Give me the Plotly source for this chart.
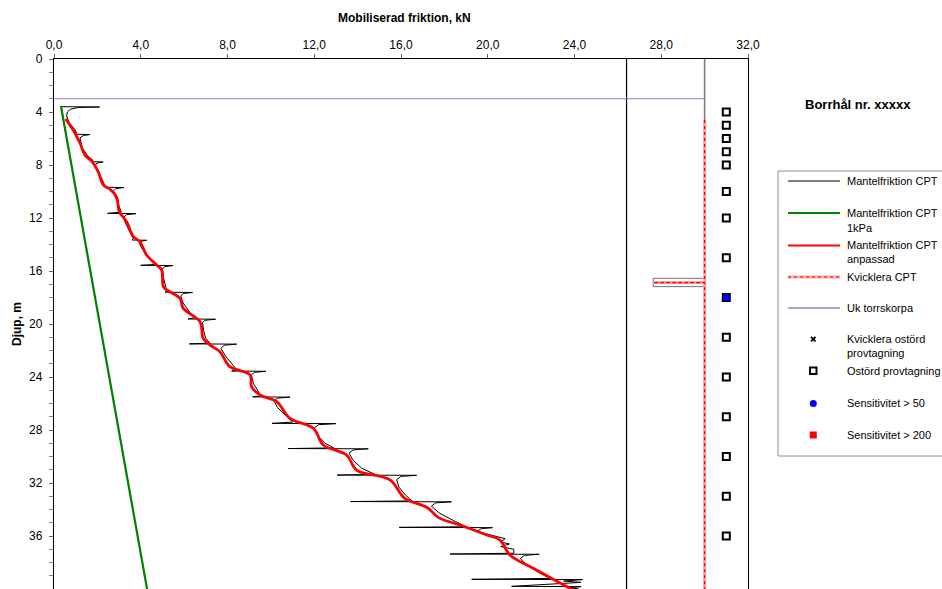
import plotly.graph_objects as go

# ---------------- data ----------------
x_tick_vals = [0, 4, 8, 12, 16, 20, 24, 28, 32]
x_tick_text = ["0,0", "4,0", "8,0", "12,0", "16,0", "20,0", "24,0", "28,0", "32,0"]
y_tick_vals = [0, 4, 8, 12, 16, 20, 24, 28, 32, 36, 40]
y_tick_text = ["0", "4", "8", "12", "16", "20", "24", "28", "32", "36", "40"]

# Mantelfriktion CPT (black, with rod-change spikes)
cpt_friction = [
    0.35, 2.10, 1.10, 0.75, 0.62, 0.58, 0.70, 0.95, 1.05,
    1.00, 1.66, 1.35, 1.20, 1.25, 1.30, 1.55, 1.80,
    1.75, 2.27, 1.98, 1.90, 2.00, 2.20, 2.35,
    2.35, 3.23, 2.85, 2.75, 2.80, 2.95, 3.10,
    2.47, 3.78, 3.35, 3.20, 3.30, 3.50, 3.65,
    3.60, 4.27, 4.00, 3.95, 4.05, 4.40, 4.75,
    4.00, 5.49, 5.10, 5.00, 5.05, 5.15, 5.20,
    5.12, 6.39, 5.95, 5.85, 5.95, 6.20, 6.45,
    6.18, 7.45, 6.95, 6.85, 6.90, 7.00, 7.20,
    6.24, 8.42, 7.85, 7.70, 7.90, 8.20, 8.45,
    8.19, 9.77, 9.25, 9.10, 9.20, 9.40, 9.55,
    9.16, 10.88, 10.30, 10.15, 10.30, 10.60, 11.00,
    10.05, 13.00, 12.20, 12.00, 12.20, 12.50, 12.90,
    10.80, 14.49, 13.80, 13.60, 13.80, 14.20, 14.80,
    13.06, 16.72, 16.00, 15.80, 15.90, 16.20, 16.50,
    13.68, 18.33, 17.60, 17.40, 17.80, 18.50, 19.00,
    15.92, 20.22, 19.70, 19.50, 20.20, 20.80, 20.60, 21.00, 20.60, 21.20, 21.20,
    18.26, 22.37, 21.70, 21.50, 21.80, 22.40, 22.90,
    19.26, 24.37, 23.50, 24.30, 21.10, 24.30, 23.80, 24.20,
]
cpt_depth = [
    3.60, 3.62, 3.66, 3.80, 4.00, 4.30, 4.80, 5.30, 5.60,
    5.68, 5.70, 5.78, 5.95, 6.30, 6.70, 7.30, 7.65,
    7.75, 7.77, 7.85, 8.05, 8.50, 9.00, 9.60,
    9.68, 9.70, 9.78, 9.95, 10.30, 10.90, 11.55,
    11.65, 11.67, 11.75, 11.95, 12.40, 13.00, 13.55,
    13.66, 13.68, 13.76, 13.95, 14.30, 15.00, 15.50,
    15.57, 15.59, 15.67, 15.85, 16.50, 17.20, 17.55,
    17.60, 17.62, 17.70, 17.90, 18.40, 19.00, 19.55,
    19.62, 19.64, 19.72, 19.90, 20.50, 21.10, 21.45,
    21.50, 21.52, 21.60, 21.85, 22.40, 23.00, 23.50,
    23.55, 23.57, 23.65, 23.85, 24.50, 25.10, 25.45,
    25.50, 25.52, 25.60, 25.80, 26.30, 26.80, 27.40,
    27.50, 27.52, 27.60, 27.85, 28.50, 29.00, 29.35,
    29.40, 29.42, 29.50, 29.75, 30.30, 30.90, 31.35,
    31.40, 31.42, 31.50, 31.75, 32.30, 32.90, 33.35,
    33.40, 33.42, 33.50, 33.75, 34.30, 34.90, 35.30,
    35.35, 35.37, 35.45, 35.65, 35.95, 36.20, 36.45, 36.60, 36.80, 37.00, 37.30,
    37.36, 37.38, 37.46, 37.70, 38.20, 38.80, 39.20,
    39.27, 39.29, 39.40, 39.50, 39.80, 39.82, 39.90, 40.00,
]

# Mantelfriktion CPT 1kPa (green)
cpt_1kpa_friction = [0.32, 4.40]
cpt_1kpa_depth = [3.55, 41.0]

# Mantelfriktion CPT anpassad (red)
adj_friction = [
    0.54, 0.97, 1.20, 1.43, 1.74, 2.04, 2.27, 2.58, 2.89, 3.01, 3.35, 3.66, 3.96,
    4.27, 4.73, 4.96, 5.04, 5.20, 5.81, 5.96, 6.73, 6.88, 7.19, 7.65, 8.11, 9.04,
    9.11, 9.50, 10.27, 10.88, 11.96, 12.42, 13.49, 13.95, 15.49, 16.18, 17.20,
    17.75, 18.72, 19.95, 20.56, 21.02, 22.10, 23.79, 24.10,
]
adj_depth = [
    4.53, 5.61, 6.36, 7.25, 7.70, 8.50, 9.50, 9.83, 10.44, 11.52, 12.28, 13.41, 13.79,
    14.79, 15.55, 15.92, 17.18, 17.43, 18.06, 18.82, 19.82, 21.08, 21.58, 22.09, 23.22, 23.85,
    24.73, 25.36, 25.86, 27.12, 27.87, 29.13, 29.89, 31.02, 31.77, 33.16, 33.85,
    34.63, 35.17, 35.92, 36.30, 37.43, 38.44, 39.95, 40.20,
]

# Kvicklera CPT
quick_clay_friction = [30.0, 30.0, 27.63, 30.0, 30.0]
quick_clay_depth = [4.6, 16.87, 16.87, 16.87, 41.0]
quick_box_friction = [27.63, 30.0, 30.0, 27.63, 27.63]
quick_box_depth = [16.55, 16.55, 17.18, 17.18, 16.55]

# Uk torrskorpa
crust_friction = [0.0, 30.0]
crust_depth = [3.0, 3.0]

# vertical reference lines
ref_a_friction = [26.4, 26.4]
ref_a_depth = [0.0, 41.0]
ref_b_friction = [30.0, 30.0]
ref_b_depth = [0.0, 41.0]

# Ostörd provtagning
sample_x = [31.0, 31.0, 31.0, 31.0, 31.0, 31.0, 31.0, 31.0, 31.0, 31.0, 31.0, 31.0, 31.0, 31.0, 31.0]
sample_depth = [4, 5, 6, 7, 8, 10, 12, 15, 18, 21, 24, 27, 30, 33, 36]

# Sensitivitet > 50
sens50_x = [31.0]
sens50_depth = [18]

FONT = "Liberation Sans, Arial, sans-serif"

fig = go.Figure()


def line(x, y, color, width, dash="solid", shape="linear"):
    fig.add_trace(go.Scatter(x=x, y=y, mode="lines", showlegend=False, hoverinfo="skip",
                             line=dict(color=color, width=width, dash=dash, shape=shape)))


line(ref_a_friction, ref_a_depth, "#000000", 1.2)
line(ref_b_friction, ref_b_depth, "#808080", 1.6)
line(crust_friction, crust_depth, "#8080b8", 1)
fig.add_trace(go.Scatter(x=quick_box_friction, y=quick_box_depth, mode="lines", fill="toself",
                         fillcolor="white", showlegend=False, hoverinfo="skip",
                         line=dict(color="#707070", width=1)))
line(quick_clay_friction, quick_clay_depth, "rgba(255,160,160,1)", 3)
line(quick_clay_friction, quick_clay_depth, "#ff0000", 1.3, "dot")
line(cpt_friction, cpt_depth, "#000000", 1)
line(cpt_1kpa_friction, cpt_1kpa_depth, "#008000", 2.2)
line(adj_friction, adj_depth, "#ff0000", 2.8, shape="spline")

fig.add_trace(go.Scatter(x=sample_x, y=sample_depth, mode="markers", showlegend=False, hoverinfo="skip",
                         marker=dict(symbol="square-open", size=7, color="#000000",
                                     line=dict(color="#000000", width=2))))
fig.add_trace(go.Scatter(x=sens50_x, y=sens50_depth, mode="markers", showlegend=False, hoverinfo="skip",
                         marker=dict(symbol="circle", size=7, color="#0000ff", line=dict(width=0))))

# ---------------- layout ----------------
L, R, T, B = 54, 748, 59, 589
W, H = 942, 589


def px(xp):
    return (xp - L) / (R - L)


def py(yp):
    return (B - yp) / (B - T)


fig.update_layout(
    width=W, height=H,
    margin=dict(l=L, r=W - R, t=T, b=H - B, pad=0),
    paper_bgcolor="white", plot_bgcolor="white",
    font=dict(family=FONT, size=12, color="#000000"),
    showlegend=False,
    xaxis=dict(range=[0, 32], side="top", tickvals=x_tick_vals, ticktext=x_tick_text,
               ticks="outside", ticklen=4, tickcolor="#666666", tickwidth=1,
               showgrid=False, zeroline=False, showline=True, linecolor="#000000",
               linewidth=1.3, mirror=True, tickfont=dict(size=12)),
    yaxis=dict(range=[40, 0], tickvals=y_tick_vals, ticktext=y_tick_text,
               ticks="outside", ticklen=4, tickcolor="#666666", tickwidth=1,
               minor=dict(dtick=1, ticks="outside", ticklen=4, tickcolor="#888888"),
               showgrid=False, zeroline=False, showline=True, linecolor="#000000",
               linewidth=1.3, mirror=True, tickfont=dict(size=12), ticklabelstandoff=4),
)

ann = []
shapes = []
ann.append(dict(text="<b>Mobiliserad friktion, kN</b>", x=px(404), y=py(18), xref="paper", yref="paper",
                showarrow=False, xanchor="center", yanchor="middle", font=dict(size=12)))
ann.append(dict(text="<b>Djup, m</b>", x=px(17), y=py(324), xref="paper", yref="paper", textangle=-90,
                showarrow=False, xanchor="center", yanchor="middle", font=dict(size=12)))
ann.append(dict(text="<b>Borrhål nr. xxxxx</b>", x=px(857.5), y=py(104), xref="paper", yref="paper",
                showarrow=False, xanchor="center", yanchor="middle", font=dict(size=13)))

# legend box
shapes.append(dict(type="rect", xref="paper", yref="paper", x0=px(778), x1=px(960), y0=py(171), y1=py(456),
                   line=dict(color="#909090", width=1), fillcolor="white", layer="below"))

legend_lines = [
    (181, "#000000", 1, "solid"),
    (213, "#008000", 2, "solid"),
    (245.5, "#ff0000", 2.2, "solid"),
    (308, "#a8a8c8", 2, "solid"),
]
for yy, c, w, d in legend_lines:
    shapes.append(dict(type="line", xref="paper", yref="paper", x0=px(788), x1=px(840), y0=py(yy), y1=py(yy),
                       line=dict(color=c, width=w, dash=d)))
shapes.append(dict(type="line", xref="paper", yref="paper", x0=px(788), x1=px(840), y0=py(277), y1=py(277),
                   line=dict(color="rgba(255,170,170,1)", width=3)))
shapes.append(dict(type="line", xref="paper", yref="paper", x0=px(788), x1=px(840), y0=py(277), y1=py(277),
                   line=dict(color="#ff0000", width=1.2, dash="dot")))
# x marker
shapes.append(dict(type="line", xref="paper", yref="paper", x0=px(811), x1=px(815.5), y0=py(336.8), y1=py(341.3),
                   line=dict(color="#000000", width=1.8)))
shapes.append(dict(type="line", xref="paper", yref="paper", x0=px(811), x1=px(815.5), y0=py(341.3), y1=py(336.8),
                   line=dict(color="#000000", width=1.8)))
# open square
shapes.append(dict(type="rect", xref="paper", yref="paper", x0=px(810), x1=px(816.5), y0=py(367.5), y1=py(374),
                   line=dict(color="#000000", width=2), fillcolor="white"))
# blue circle
shapes.append(dict(type="circle", xref="paper", yref="paper", x0=px(809.8), x1=px(816.8), y0=py(400), y1=py(407),
                   line=dict(width=0), fillcolor="#0000ff"))
# red square
shapes.append(dict(type="rect", xref="paper", yref="paper", x0=px(809.8), x1=px(816.8), y0=py(431.5), y1=py(438.5),
                   line=dict(width=0), fillcolor="#ff0000"))

legend_texts = [
    (181, "Mantelfriktion CPT"),
    (213, "Mantelfriktion CPT"), (227.5, "1kPa"),
    (245, "Mantelfriktion CPT"), (259, "anpassad"),
    (277, "Kvicklera CPT"),
    (308, "Uk torrskorpa"),
    (339, "Kvicklera ostörd"), (352.5, "provtagning"),
    (370.5, "Ostörd provtagning"),
    (403, "Sensitivitet > 50"),
    (435, "Sensitivitet > 200"),
]
for yy, t in legend_texts:
    ann.append(dict(text=t, x=px(845), y=py(yy), xref="paper", yref="paper", showarrow=False,
                    xanchor="left", yanchor="middle", font=dict(size=11)))

fig.update_layout(annotations=ann, shapes=shapes)
fig.write_html("out.html", config={"displayModeBar": False},
               post_script="document.body.style.margin='0';document.body.style.overflow='hidden';")
